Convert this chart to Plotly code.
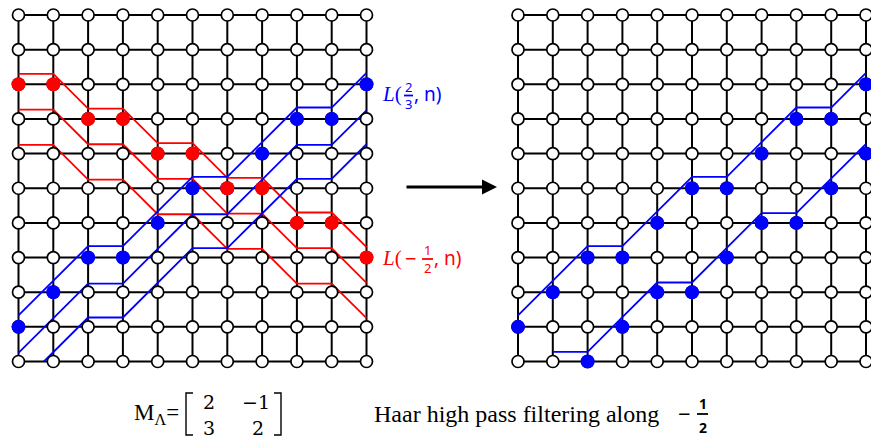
import numpy as np
import plotly.graph_objects as go

W, H = 871, 444

# ---- lattice data -------------------------------------------------------
n_side = 11                                   # 11 x 11 sampling lattice
cols = list(range(n_side))

# lattice line L(-1/2, n): row reached at each column (row 0 = bottom)
red_rows = [8, 8, 7, 7, 6, 6, 5, 5, 4, 4, 3]
# lattice line L(2/3, n)
blue_rows = [1, 2, 3, 3, 4, 5, 5, 6, 7, 7, 8]

# after Haar high-pass filtering along -1/2: the shifted coset of L(2/3, n)
shift_cols = [2, 3, 4, 5, 6, 7, 8, 9, 10]
shift_rows = [0, 1, 2, 2, 3, 4, 4, 5, 6]
shift_line_cols = [1, 2, 3, 4, 5, 6, 7, 8, 9, 10]
shift_line_rows = [0, 0, 1, 2, 2, 3, 4, 4, 5, 6]

# staircase band edges, in rows relative to each path
red_band = [0.30, -0.73, -1.75]
blue_band = [0.33, -0.75, -1.73]
right_upper_band = 0.33
right_lower_band = 0.28

# ---- geometry: data units are lattice steps --------------------------------
X0_PX, DX_PX = 18.5, 34.8          # left lattice column 0, column pitch
Y0_PX, DY_PX = 361.5, 34.65        # row 0, row pitch
RIGHT_SHIFT = (518.0 - X0_PX) / DX_PX

x_range = [-X0_PX / DX_PX, (W - X0_PX) / DX_PX]
y_range = [-(H - Y0_PX) / DY_PX, Y0_PX / DY_PX]

BLUE = "#0000FF"
RED = "#FF0000"


def clip_bottom(xs, ys, floor=0.0):
    """Cut a polyline where it dips below the bottom row."""
    out_x, out_y = [], []
    for i in range(len(xs)):
        x, y = xs[i], ys[i]
        if i > 0:
            xp, yp = xs[i - 1], ys[i - 1]
            if (yp < floor) != (y < floor):
                t = (floor - yp) / (y - yp)
                out_x.append(xp + t * (x - xp))
                out_y.append(floor)
        if y >= floor:
            out_x.append(x)
            out_y.append(y)
    return out_x, out_y


fig = go.Figure()


def grid_traces(x_off):
    gx, gy = [], []
    for r in range(n_side):
        gx += [x_off, x_off + n_side - 1, None]
        gy += [r, r, None]
    for c in range(n_side):
        gx += [x_off + c, x_off + c, None]
        gy += [0, n_side - 1, None]
    fig.add_trace(go.Scatter(x=gx, y=gy, mode="lines",
                             line=dict(color="black", width=2),
                             hoverinfo="skip"))


def band_line(xs, ys, offset, color, x_off):
    lx = [x_off + c for c in xs]
    ly = [r + offset for r in ys]
    lx, ly = clip_bottom(lx, ly)
    fig.add_trace(go.Scatter(x=lx, y=ly, mode="lines",
                             line=dict(color=color, width=1.8),
                             hoverinfo="skip"))


def nodes(x_off):
    nx, ny = [], []
    for r in range(n_side):
        for c in range(n_side):
            nx.append(x_off + c)
            ny.append(r)
    fig.add_trace(go.Scatter(x=nx, y=ny, mode="markers",
                             marker=dict(size=12, color="white",
                                         line=dict(color="black", width=1.7)),
                             hoverinfo="skip"))


def filled(xs, ys, color, x_off):
    fig.add_trace(go.Scatter(x=[x_off + c for c in xs], y=ys, mode="markers",
                             marker=dict(size=14, color=color,
                                         line=dict(width=0)),
                             hoverinfo="skip"))


# left lattice: both lattice lines with their bands
grid_traces(0.0)
for off in red_band:
    band_line(cols, red_rows, off, RED, 0.0)
for off in blue_band:
    band_line(cols, blue_rows, off, BLUE, 0.0)
nodes(0.0)
filled(cols, blue_rows, BLUE, 0.0)
filled(cols, red_rows, RED, 0.0)

# right lattice: high-pass output
grid_traces(RIGHT_SHIFT)
band_line(cols, blue_rows, right_upper_band, BLUE, RIGHT_SHIFT)
band_line(shift_line_cols, shift_line_rows, right_lower_band, BLUE, RIGHT_SHIFT)
nodes(RIGHT_SHIFT)
filled(cols, blue_rows, BLUE, RIGHT_SHIFT)
filled(shift_cols, shift_rows, BLUE, RIGHT_SHIFT)


# ---- text ---------------------------------------------------------------
def px(x):
    return x / W


def py(y):
    return 1 - y / H


annotations = []
shapes = []


def text(x, y, s, size, color="black", family="Liberation Serif",
         xanchor="left"):
    annotations.append(dict(x=px(x), y=py(y), xref="paper", yref="paper",
                            text=s, showarrow=False, xanchor=xanchor,
                            yanchor="middle",
                            font=dict(size=size, color=color, family=family)))


def hbar(x0, x1, y, color, width=1.8):
    # fraction bar
    shapes.append(dict(type="path", xref="paper", yref="paper", layer="above",
                       path=f"M {px(x0)},{py(y)} L {px(x1)},{py(y)}",
                       line=dict(color=color, width=width)))


# L(2/3, n)
text(380, 94, "<i>L</i>(", 21, BLUE)
text(408.5, 87, "2", 13, BLUE, "Noto Sans", "center")
hbar(404, 413, 95.5, BLUE)
text(408.5, 104, "3", 13, BLUE, "Noto Sans", "center")
text(412, 94, ", n)", 19, BLUE, "Noto Sans")

# L(-1/2, n)
text(380, 258, "<i>L</i>(", 21, RED)
text(410.5, 258, "\u2212", 20, RED, "Noto Sans", "center")
text(427.5, 250, "1", 13, RED, "Noto Sans", "center")
hbar(422, 433, 259, RED)
text(427.5, 268, "2", 13, RED, "Noto Sans", "center")
text(432, 258, ", n)", 19, RED, "Noto Sans")

# arrow between the lattices
annotations.append(dict(x=px(497), y=py(187), xref="paper", yref="paper",
                        ax=-92, ay=0, text="", showarrow=True,
                        arrowhead=2, arrowwidth=3, arrowsize=1,
                        arrowcolor="black"))

# matrix M_Lambda
text(132, 414, "M<sub>\u039b</sub>=", 23)
for xb, sgn in ((186, 1), (281, -1)):
    shapes.append(dict(type="path", xref="paper", yref="paper",
                       path=(f"M {px(xb + sgn * 7)},{py(393)} L {px(xb)},{py(393)} "
                             f"L {px(xb)},{py(435)} L {px(xb + sgn * 7)},{py(435)}"),
                       line=dict(color="black", width=1.4)))
text(209, 402, "2", 19, family="DejaVu Serif", xanchor="center")
text(272, 402, "\u22121", 19, family="DejaVu Serif", xanchor="right")
text(209, 428, "3", 19, family="DejaVu Serif", xanchor="center")
text(258, 428, "2", 19, family="DejaVu Serif", xanchor="center")

# caption
text(372, 414, "Haar high pass filtering along", 24)
text(684.5, 413, "\u2212", 22, family="Noto Sans", xanchor="center")
text(702.5, 403, "<b>1</b>", 14, family="Noto Sans", xanchor="center")
hbar(697, 708, 414, "black", 1.8)
text(702.5, 427, "<b>2</b>", 14, family="Noto Sans", xanchor="center")

fig.update_layout(
    width=W, height=H,
    margin=dict(l=0, r=0, t=0, b=0),
    paper_bgcolor="white", plot_bgcolor="white",
    showlegend=False,
    xaxis=dict(range=x_range, visible=False, fixedrange=True),
    yaxis=dict(range=y_range, visible=False, fixedrange=True),
    annotations=annotations,
    shapes=shapes,
)

fig.write_html("out.html")
